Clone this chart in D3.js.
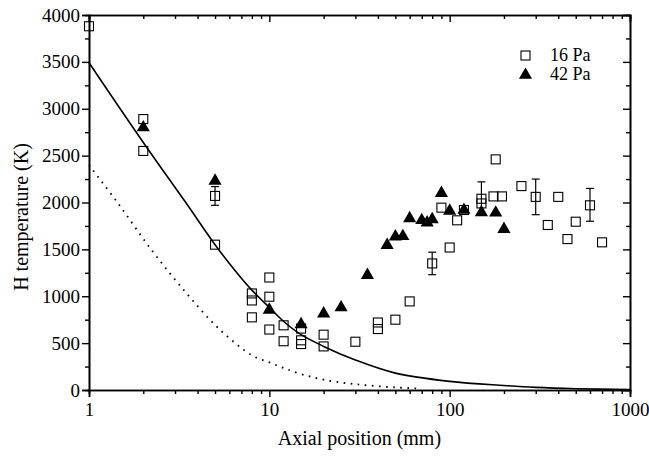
<!DOCTYPE html>
<html>
<head>
<meta charset="utf-8">
<script src="https://cdn.jsdelivr.net/npm/d3@7"></script>
<style>
  body { margin: 0; background: #fff; }
  text { font-family: "Liberation Serif", "Times New Roman", serif; fill: #000; }
</style>
</head>
<body>
<div id="chart"></div>
<script>
// 16 Pa measurements (open squares)
var x16 = [1, 2, 2, 5, 5, 8, 8, 8, 10, 10, 10, 12, 12, 15, 15, 15, 20, 20, 30, 40, 40, 50, 60, 80, 90, 100, 110, 120, 150, 150, 180, 175, 195, 250, 300, 350, 400, 450, 500, 600, 700];
var t16 = [3880, 2890, 2550, 2070, 1550, 1030, 955, 775, 1200, 995, 645, 690, 520, 655, 530, 490, 590, 465, 515, 720, 650, 750, 945, 1350, 1945, 1520, 1810, 1920, 2040, 1990, 2460, 2065, 2065, 2175, 2060, 1760, 2060, 1610, 1795, 1970, 1575];

// error bars on some 16 Pa points
var errX = [5, 80, 150, 300, 600];
var errLo = [1970, 1230, 1870, 1870, 1800];
var errHi = [2170, 1470, 2220, 2250, 2150];

// 42 Pa measurements (filled triangles)
var x42 = [2, 5, 10, 15, 20, 25, 35, 45, 50, 55, 60, 70, 75, 80, 90, 100, 120, 150, 180, 200];
var t42 = [2800, 2230, 855, 700, 815, 880, 1225, 1545, 1635, 1640, 1830, 1810, 1785, 1820, 2100, 1910, 1920, 1895, 1890, 1715];

// model curves
var solidX = [1, 2, 3.41, 5, 6.45, 8, 10, 12.2, 15, 20, 30, 50, 100, 200, 300, 500, 1000];
var solidT = [3490, 2640, 2010, 1550, 1275, 1065, 880, 720, 590, 465, 320, 180, 92, 48, 28, 14, 5];
var dotX = [1, 1.45, 2.23, 3.41, 5.21, 8, 10, 12, 15, 20, 30, 50, 70];
var dotT = [2400, 1990, 1490, 1050, 660, 370, 295, 235, 170, 110, 62, 28, 15];

var xMajor = [1, 10, 100, 1000];
var yMajor = [0, 500, 1000, 1500, 2000, 2500, 3000, 3500, 4000];

var svgWidth = 649, svgHeight = 457;
var margin = {top: 15, right: 19, bottom: 67, left: 89};
var width = svgWidth - margin.left - margin.right;
var height = svgHeight - margin.top - margin.bottom;

var svg = d3.select("#chart").append("svg")
    .attr("width", svgWidth)
    .attr("height", svgHeight);

var g = svg.append("g")
    .attr("transform", `translate(${margin.left}, ${margin.top})`);

var xScale = d3.scaleLog().domain([1, 1000]).range([0, width]);
var yScale = d3.scaleLinear().domain([0, 4000]).range([height, 0]);

// minor tick values
var xMinor = [];
[1, 10, 100].forEach(d => { for (var k = 2; k < 10; k++) xMinor.push(d * k); });
var yMinor = d3.range(250, 4000, 500);

function styleAxis(sel) {
    sel.selectAll(".domain").attr("stroke-width", 1.6);
    sel.selectAll(".tick line").attr("stroke-width", 1.4);
    sel.selectAll("text").style("font-size", "19px").style("font-family", "Liberation Serif");
}

// bottom
g.append("g").attr("transform", `translate(0, ${height})`)
    .call(d3.axisBottom(xScale).tickValues(xMajor).tickSize(7).tickPadding(6).tickFormat(d3.format("d")))
    .call(styleAxis);
g.append("g").attr("transform", `translate(0, ${height})`)
    .call(d3.axisBottom(xScale).tickValues(xMinor).tickSize(4).tickFormat(""))
    .call(styleAxis);
// top (ticks inward)
g.append("g")
    .call(d3.axisTop(xScale).tickValues(xMajor).tickSize(-7).tickFormat(""))
    .call(styleAxis);
g.append("g")
    .call(d3.axisTop(xScale).tickValues(xMinor).tickSize(-4).tickFormat(""))
    .call(styleAxis);
// left
g.append("g")
    .call(d3.axisLeft(yScale).tickValues(yMajor).tickSize(7).tickPadding(2).tickFormat(d3.format("d")))
    .call(styleAxis);
g.append("g")
    .call(d3.axisLeft(yScale).tickValues(yMinor).tickSize(4).tickFormat(""))
    .call(styleAxis);
// right (ticks inward)
g.append("g").attr("transform", `translate(${width}, 0)`)
    .call(d3.axisRight(yScale).tickValues(yMajor).tickSize(-7).tickFormat(""))
    .call(styleAxis);
g.append("g").attr("transform", `translate(${width}, 0)`)
    .call(d3.axisRight(yScale).tickValues(yMinor).tickSize(-4).tickFormat(""))
    .call(styleAxis);

// axis titles
svg.append("text")
    .attr("x", margin.left + xScale(31.6))
    .attr("y", 445)
    .attr("text-anchor", "middle")
    .style("font-size", "20px")
    .text("Axial position (mm)");

svg.append("text")
    .attr("transform", "translate(28, 217) rotate(-90)")
    .attr("text-anchor", "middle")
    .style("font-size", "20px")
    .text("H temperature (K)");

// curves
var line = d3.line()
    .x(d => xScale(d[0]))
    .y(d => yScale(d[1]))
    .curve(d3.curveCatmullRom.alpha(0.5));

g.append("path")
    .datum(solidX.map((x, i) => [x, solidT[i]]))
    .attr("d", line)
    .attr("fill", "none")
    .attr("stroke", "black")
    .attr("stroke-width", 1.6);

g.append("path")
    .datum(dotX.map((x, i) => [x, dotT[i]]))
    .attr("d", line)
    .attr("fill", "none")
    .attr("stroke", "black")
    .attr("stroke-width", 1.8)
    .attr("stroke-dasharray", "1.6,5.5");

// error bars
var errData = errX.map((x, i) => ({x: x, lo: errLo[i], hi: errHi[i]}));
var eb = g.selectAll(".err").data(errData).enter().append("g").attr("class", "err");
eb.append("line")
    .attr("x1", d => xScale(d.x)).attr("x2", d => xScale(d.x))
    .attr("y1", d => yScale(d.lo)).attr("y2", d => yScale(d.hi))
    .attr("stroke", "black").attr("stroke-width", 1.2);
eb.append("line")
    .attr("x1", d => xScale(d.x) - 4).attr("x2", d => xScale(d.x) + 4)
    .attr("y1", d => yScale(d.hi)).attr("y2", d => yScale(d.hi))
    .attr("stroke", "black").attr("stroke-width", 1.2);
eb.append("line")
    .attr("x1", d => xScale(d.x) - 4).attr("x2", d => xScale(d.x) + 4)
    .attr("y1", d => yScale(d.lo)).attr("y2", d => yScale(d.lo))
    .attr("stroke", "black").attr("stroke-width", 1.2);

// 42 Pa triangles
var tri = d3.symbol().type(d3.symbolTriangle).size(75);
g.selectAll(".tri")
    .data(x42.map((x, i) => [x, t42[i]]))
    .enter().append("path")
    .attr("class", "tri")
    .attr("d", tri)
    .attr("transform", d => `translate(${xScale(d[0])}, ${yScale(d[1])})`)
    .attr("fill", "black");

// 16 Pa squares
g.selectAll(".sq")
    .data(x16.map((x, i) => [x, t16[i]]))
    .enter().append("rect")
    .attr("class", "sq")
    .attr("x", d => xScale(d[0]) - 4.5)
    .attr("y", d => yScale(d[1]) - 4.5)
    .attr("width", 9)
    .attr("height", 9)
    .attr("fill", "none")
    .attr("stroke", "black")
    .attr("stroke-width", 1.1);

// legend
var legend = svg.append("g");
legend.append("rect")
    .attr("x", 521).attr("y", 51).attr("width", 9).attr("height", 9)
    .attr("fill", "none").attr("stroke", "black").attr("stroke-width", 1.1);
legend.append("text").attr("x", 550).attr("y", 61).style("font-size", "18px").text("16 Pa");
legend.append("path")
    .attr("d", tri)
    .attr("transform", "translate(525.5, 75)")
    .attr("fill", "black");
legend.append("text").attr("x", 550).attr("y", 80).style("font-size", "18px").text("42 Pa");
</script>
</body>
</html>
